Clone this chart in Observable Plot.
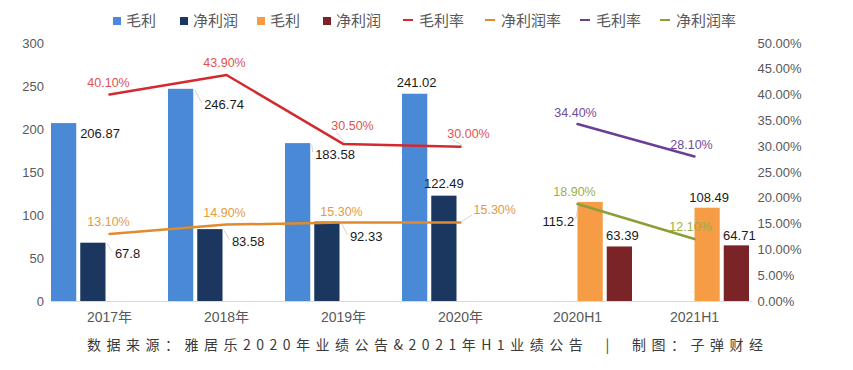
<!DOCTYPE html>
<html>
<head>
<meta charset="utf-8">
<script src="https://cdn.jsdelivr.net/npm/d3@7"></script>
<script src="https://cdn.jsdelivr.net/npm/@observablehq/plot@0.6"></script>
<style>
  html, body { margin: 0; padding: 0; background: #fff; }
  body { width: 853px; height: 370px; overflow: hidden; font-family: "Liberation Sans", Arial, "Noto Sans CJK SC", sans-serif; }
  #legend { height: 36px; position: relative; font-family: "Noto Sans CJK SC", sans-serif; font-size: 15px; color: #595959; }
  .item { position: absolute; top: 9px; line-height: 22px; white-space: nowrap; }
  .sq { display: inline-block; width: 8px; height: 8px; margin-right: 5px; vertical-align: 1px; }
  .dash { display: inline-block; width: 10px; height: 2px; margin-right: 6px; vertical-align: 5px; }
  #caption { text-align: left; padding-left: 87px; margin-top: 8px; font-family: "Noto Sans CJK SC", sans-serif; font-size: 14px; letter-spacing: 5.5px; color: #3a3a3a; white-space: nowrap; }
  svg { display: block; }
</style>
</head>
<body>
<div id="legend"></div>
<div id="chart"></div>
<div id="caption">数据来源：雅居乐2020年业绩公告&amp;2021年H1业绩公告&nbsp;&nbsp;|&nbsp;&nbsp;制图：子弹财经</div>
<script>
// ---- data ----
const categories = ["2017年", "2018年", "2019年", "2020年", "2020H1", "2021H1"];
const grossAnnual = [206.87, 246.74, 183.58, 241.02];      // 毛利 (2017-2020)
const netAnnual = [67.8, 83.58, 92.33, 122.49];           // 净利润 (2017-2020)
const grossH1 = [115.2, 108.49];                           // 毛利 (2020H1, 2021H1)
const netH1 = [63.39, 64.71];                              // 净利润 (2020H1, 2021H1)
const grossMarginAnnual = [40.1, 43.9, 30.5, 30.0];        // 毛利率 %
const netMarginAnnual = [13.1, 14.9, 15.3, 15.3];          // 净利润率 %
const grossMarginH1 = [34.4, 28.1];                        // 毛利率 %
const netMarginH1 = [18.9, 12.1];                          // 净利润率 %
const leftTicks = [0, 50, 100, 150, 200, 250, 300];
const rightTicks = [0, 5, 10, 15, 20, 25, 30, 35, 40, 45, 50];

// ---- label placement (pixel offsets, anchor, leader line?) ----
const grossAnnualLbl = [[14.5, 10, "start", 0], [21.5, 16, "start", 1], [15.5, 11, "start", 1], [0, -11, "middle", 0]];
const netAnnualLbl = [[20, 11, "start", 1], [20, 12.5, "start", 1], [21, 15, "start", 1], [-2, -12, "middle", 0]];
const grossH1Lbl = [[-18, 19, "end", 1], [0, -10, "middle", 0]];
const netH1Lbl = [[1, -11, "middle", 0], [1, -10, "middle", 0]];
const gmAnnualLbl = [[-1, -12, "middle", 0], [-2, -12, "middle", 0], [9, -18, "middle", 1], [8, -13, "middle", 1]];
const nmAnnualLbl = [[-1, -12, "middle", 0], [-2, -12, "middle", 0], [-2, -11, "middle", 0], [13, -13, "start", 1]];
const gmH1Lbl = [[-2, -11, "middle", 0], [-3, -12, "middle", 0]];
const nmH1Lbl = [[-3, -12, "middle", 0], [-4, -12, "middle", 0]];

// ---- styles ----
const C = {
  blue: "#4A89D6", navy: "#1B365F", orange: "#F59C45", maroon: "#7A2427",
  red: "#D42A2F", redText: "#E05252", amber: "#E08B2E", amberText: "#E39B42",
  purple: "#6B3E98", purpleText: "#6F4B9C", olive: "#8B9E3A", oliveText: "#9DAF45"
};
const pctScale = 6; // 50% on right axis == 300 on left axis

// ---- legend ----
const legendItems = [
  ["sq", C.blue, "毛利", 113], ["sq", C.navy, "净利润", 180], ["sq", C.orange, "毛利", 257], ["sq", C.maroon, "净利润", 323],
  ["dash", C.red, "毛利率", 403], ["dash", C.amber, "净利润率", 485], ["dash", C.purple, "毛利率", 580], ["dash", C.olive, "净利润率", 660]
];
const lg = document.getElementById("legend");
legendItems.forEach(([kind, color, label, left]) => {
  const s = document.createElement("span");
  s.className = "item";
  s.style.left = left + "px";
  s.innerHTML = `<span class="${kind}" style="background:${color}"></span>${label}`;
  lg.appendChild(s);
});

// ---- build tables ----
function barRows(values, offset, slot, color, lbl) {
  return values.map((v, k) => ({ i: k + offset, slot, v, color, dx: lbl[k][0], dy: lbl[k][1], anchor: lbl[k][2], leader: lbl[k][3] }));
}
const bars = [
  ...barRows(grossAnnual, 0, 0, C.blue, grossAnnualLbl),
  ...barRows(netAnnual, 0, 1, C.navy, netAnnualLbl),
  ...barRows(grossH1, 4, 2, C.orange, grossH1Lbl),
  ...barRows(netH1, 4, 3, C.maroon, netH1Lbl)
];
function lineRows(values, offset, stroke, textColor, lbl, key) {
  return values.map((p, k) => ({ i: k + offset, p, stroke, textColor, key, dx: lbl[k][0], dy: lbl[k][1], anchor: lbl[k][2], leader: lbl[k][3] }));
}
const lines = [
  ...lineRows(grossMarginAnnual, 0, C.red, C.redText, gmAnnualLbl, "gmA"),
  ...lineRows(netMarginAnnual, 0, C.amber, C.amberText, nmAnnualLbl, "nmA"),
  ...lineRows(grossMarginH1, 4, C.purple, C.purpleText, gmH1Lbl, "gmH"),
  ...lineRows(netMarginH1, 4, C.olive, C.oliveText, nmH1Lbl, "nmH")
];

const slotW = 0.25;
const barLeft = d => d.i - 0.5 + d.slot * slotW;
const barCenter = d => d.i - 0.5 + (d.slot + 0.5) * slotW;

// one text mark per label so each can carry its own constant dx/dy
const barLabels = bars.map(d => Plot.text([d], {
  x: barCenter, y: "v", text: r => String(r.v), textAnchor: d.anchor,
  dx: d.dx, dy: d.dy, fill: "#1a1a1a", fontSize: 13
}));
const pctLabels = lines.map(d => Plot.text([d], {
  x: "i", y: r => r.p * pctScale, text: r => r.p.toFixed(2) + "%", textAnchor: d.anchor,
  dx: d.dx, dy: d.dy, fill: d.textColor, fontSize: 12.5
}));

// faint leader lines from the data point to its label (positions from scales)
function leaders(index, scales) {
  const g = d3.create("svg:g").attr("stroke", "#c9c9c9").attr("stroke-width", 0.8).attr("fill", "none");
  for (const d of bars.filter(b => b.leader)) {
    const cx = scales.x(barCenter(d)), cy = scales.y(d.v);
    const half = (scales.x(slotW) - scales.x(0)) / 2 - 2;
    const fromX = d.anchor === "end" ? cx - half : cx + half;
    const toX = cx + d.dx + (d.anchor === "end" ? 2 : -2);
    g.append("line").attr("x1", fromX).attr("y1", cy + 1).attr("x2", toX).attr("y2", cy + d.dy - 2);
  }
  for (const d of lines.filter(l => l.leader)) {
    const px = scales.x(d.i), py = scales.y(d.p * pctScale);
    const toX = px + d.dx + (d.anchor === "start" ? -1 : -16);
    g.append("line").attr("x1", px + 2).attr("y1", py - 1).attr("x2", toX).attr("y2", py + d.dy + 6);
  }
  return g.node();
}

const plot = Plot.plot({
  width: 853,
  height: 290,
  marginLeft: 50.5,
  marginRight: 100.5,
  marginTop: 7,
  marginBottom: 25,
  style: { fontFamily: "'Liberation Sans', Arial, 'Noto Sans CJK SC', sans-serif", background: "#fff" },
  x: { type: "linear", domain: [-0.5, 5.5] },
  y: { domain: [0, 300] },
  marks: [
    Plot.rectY(bars, {
      x1: barLeft, x2: d => barLeft(d) + slotW, y: "v", fill: "color",
      insetLeft: 0.5, insetRight: 3.5
    }),
    Plot.ruleY([0], { stroke: "#d9d9d9", strokeWidth: 1 }),
    leaders,
    Plot.line(lines, { x: "i", y: d => d.p * pctScale, z: "key", stroke: "stroke", strokeWidth: 2.5 }),
    Plot.axisY({ anchor: "left", ticks: leftTicks, tickSize: 0, tickPadding: 7, fontSize: 13, color: "#595959", label: null }),
    Plot.axisY({ anchor: "right", ticks: rightTicks.map(t => t * pctScale), tickFormat: d => (d / pctScale).toFixed(2) + "%", tickSize: 0, tickPadding: 4.5, fontSize: 13, color: "#595959", label: null }),
    Plot.axisX({ ticks: d3.range(categories.length), tickFormat: d => categories[d], tickSize: 0, tickPadding: 11, fontSize: 14, color: "#595959", label: null }),
    ...barLabels,
    ...pctLabels
  ]
});
document.getElementById("chart").appendChild(plot);
</script>
</body>
</html>
